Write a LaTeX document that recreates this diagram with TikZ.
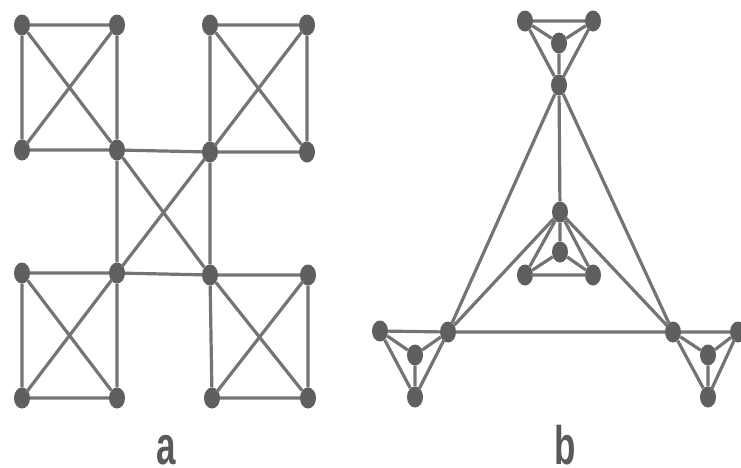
\documentclass[tikz,border=0pt]{standalone}
\usepackage{graphicx}
\usepackage{fontspec}
\setsansfont{Liberation Sans}
\usetikzlibrary{shapes.geometric}
\definecolor{Dot}{HTML}{5F5F5F}
\definecolor{Wire}{HTML}{747474}
\definecolor{Tag}{HTML}{5A5A5A}
\tikzset{vtx/.style={ellipse,fill=Dot,inner sep=0pt,minimum width=16pt,minimum height=21pt},link/.style={draw=Wire,line width=3.2pt,shorten >=-2pt,shorten <=-2pt},tag/.style={anchor=base,inner sep=0pt,text depth=0pt,text=Tag,font=\sffamily\bfseries\fontsize{35}{35}\selectfont}}

\begin{document}
\begin{tikzpicture}[x=1pt,y=-1pt]
\useasboundingbox (0,0) rectangle (741,467);
% graph a
\node[vtx] (A1) at (22,25) {};\node[vtx] (A2) at (117,25) {};
\node[vtx] (A3) at (22,150) {};\node[vtx] (A4) at (117,150) {};
\node[vtx] (B1) at (210,25) {};\node[vtx] (B2) at (307,25) {};
\node[vtx] (B3) at (210,152) {};\node[vtx] (B4) at (307,152) {};
\node[vtx] (D1) at (22,273) {};\node[vtx] (D2) at (117,273) {};
\node[vtx] (D3) at (22,398) {};\node[vtx] (D4) at (117,398) {};
\node[vtx] (E1) at (210,275) {};\node[vtx] (E2) at (308,275) {};
\node[vtx] (E3) at (212,398) {};\node[vtx] (E4) at (308,398) {};
\draw[link] (A1)--(A2) (A1)--(A3) (A2)--(A4) (A3)--(A4) (A1)--(A4) (A2)--(A3);
\draw[link] (B1)--(B2) (B1)--(B3) (B2)--(B4) (B3)--(B4) (B1)--(B4) (B2)--(B3);
\draw[link] (A4)--(B3) (A4)--(D2) (B3)--(E1) (D2)--(E1) (A4)--(E1) (B3)--(D2);
\draw[link] (D1)--(D2) (D1)--(D3) (D2)--(D4) (D3)--(D4) (D1)--(D4) (D2)--(D3);
\draw[link] (E1)--(E2) (E1)--(E3) (E2)--(E4) (E3)--(E4) (E1)--(E4) (E2)--(E3);
% graph b
\node[vtx] (T1) at (525,21) {};\node[vtx] (T2) at (593,21) {};
\node[vtx] (T3) at (559,43) {};\node[vtx] (T4) at (559,85) {};
\node[vtx] (M1) at (560,212) {};\node[vtx] (M2) at (560,252) {};
\node[vtx] (M3) at (525,275) {};\node[vtx] (M4) at (593,275) {};
\node[vtx] (L1) at (380,331) {};\node[vtx] (L2) at (448,332) {};
\node[vtx] (L3) at (415,355) {};\node[vtx] (L4) at (415,397) {};
\node[vtx] (R1) at (673,332) {};\node[vtx] (R2) at (738,332) {};
\node[vtx] (R3) at (708,355) {};\node[vtx] (R4) at (708,397) {};
\draw[link] (T1)--(T2) (T1)--(T3) (T2)--(T3) (T3)--(T4) (T1)--(T4) (T2)--(T4);
\draw[link] (M1)--(M2) (M1)--(M3) (M1)--(M4) (M2)--(M3) (M2)--(M4) (M3)--(M4);
\draw[link] (L1)--(L2) (L1)--(L3) (L2)--(L3) (L3)--(L4) (L1)--(L4) (L2)--(L4);
\draw[link] (R1)--(R2) (R1)--(R3) (R2)--(R3) (R3)--(R4) (R1)--(R4) (R2)--(R4);
\draw[link] (T4)--(L2) (T4)--(R1) (L2)--(R1) (T4)--(M1) (L2)--(M1) (R1)--(M1);
% captions
\node[tag] (capa) at (166,464) {\scalebox{1}[1.55]{a}};
\node[tag] (capb) at (565,464) {\scalebox{1}[1.55]{b}};
\end{tikzpicture}
\end{document}
